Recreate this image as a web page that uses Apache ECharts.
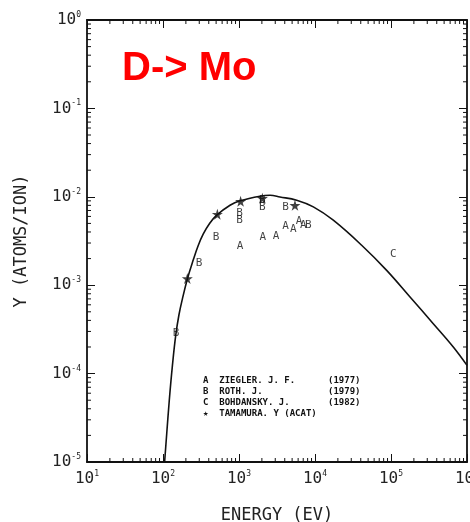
<!DOCTYPE html>
<html><head><meta charset="utf-8">
<script src="https://cdn.jsdelivr.net/npm/echarts@6/dist/echarts.min.js"></script>
<style>html,body{margin:0;padding:0;background:#fff}#c{width:470px;height:522px}</style>
</head><body><div id="c"></div>
<script>
// ---- data ----
const curveEnergy = [105,112,121,132.5,147,162,180,210,251,290,339,410,509,762,1030,1890,2560,3460,5740,9510,17400,41100,87700,178000,360000,660000,1000000];
const curveYield  = [1e-5,2.1e-5,5e-5,1.19e-4,2.7e-4,4.6e-4,7.0e-4,1.19e-3,1.95e-3,2.8e-3,3.8e-3,5.0e-3,6.2e-3,8.03e-3,9.0e-3,1.016e-2,1.04e-2,9.97e-3,9.15e-3,7.69e-3,5.43e-3,2.83e-3,1.47e-3,7.35e-4,3.67e-4,2.0e-4,1.24e-4];
const zieglerEnergy = [1030,2050,3070,4110,5190,6150,7010];
const zieglerYield  = [2.78e-3,3.46e-3,3.58e-3,4.69e-3,4.26e-3,5.33e-3,4.77e-3];
const rothEnergy = [148,298,498,1020,1020,2030,2030,4110,8170];
const rothYield  = [2.9e-4,1.76e-3,3.46e-3,6.47e-3,5.43e-3,9.15e-3,7.69e-3,7.69e-3,4.77e-3];
const tamamuraEnergy = [209,519,1050,2030,5450];
const tamamuraYield  = [1.19e-3,6.35e-3,8.9e-3,9.6e-3,8.0e-3];
const curveLabelPos = [1.07e5, 2.24e-3];
const legendNames = ['A  ZIEGLER. J. F.','B  ROTH. J.','C  BOHDANSKY. J.','\u2605  TAMAMURA. Y (ACAT)'];
const legendYears = ['(1977)','(1979)','(1982)',''];
const xDecades = [10,100,1000,10000,100000];
const yDecades = [1e-5,1e-4,1e-3,1e-2,1e-1];
const minorMult = [2,3,4,5,6,7,8,9];

const zip = (a,b) => a.map((v,i)=>[v,b[i]]);
const xMinor = [], yMinor = [];
xDecades.forEach(d => minorMult.forEach(m => xMinor.push([d*m, 1e-5])));
yDecades.forEach(d => minorMult.forEach(m => yMinor.push([10, d*m])));

const MONO = '"DejaVu Sans Mono", monospace';
const tickFmt = v => '{b|10}{s|' + Math.round(Math.log10(v)) + '}';
const richLab = {
  b:{fontFamily:MONO,fontSize:16,color:'#222',lineHeight:18},
  s:{fontFamily:MONO,fontSize:8,color:'#222',verticalAlign:'top',lineHeight:18,padding:[0,0,12,0]}
};
const STAR = 'path://M50,0 L61,35 L98,35 L68,57 L79,91 L50,70 L21,91 L32,57 L2,35 L39,35 Z';

function minorX(params, api){
  const cs = params.coordSys;
  const p = api.coord([api.value(0), api.value(1)]);
  const s = {stroke:'#111', lineWidth:1};
  return {type:'group', children:[
    {type:'line', shape:{x1:p[0],y1:cs.y+cs.height,x2:p[0],y2:cs.y+cs.height-4}, style:s},
    {type:'line', shape:{x1:p[0],y1:cs.y,x2:p[0],y2:cs.y+4}, style:s}
  ]};
}
function minorY(params, api){
  const cs = params.coordSys;
  const p = api.coord([api.value(0), api.value(1)]);
  const s = {stroke:'#111', lineWidth:1};
  return {type:'group', children:[
    {type:'line', shape:{x1:cs.x,y1:p[1],x2:cs.x+4,y2:p[1]}, style:s},
    {type:'line', shape:{x1:cs.x+cs.width,y1:p[1],x2:cs.x+cs.width-4,y2:p[1]}, style:s}
  ]};
}

const letterLabel = (t) => ({show:true, position:'inside', formatter:t, fontFamily:MONO, fontSize:11, color:'#111'});

const axisCommon = {
  type:'log', logBase:10,
  axisLine:{show:true, lineStyle:{color:'#111', width:1.8}},
  axisTick:{show:true, inside:true, length:8, lineStyle:{color:'#111', width:1}},
  splitLine:{show:false}
};

const chart = echarts.init(document.getElementById('c'), null, {renderer:'canvas'});
chart.setOption({
  animation:false,
  backgroundColor:'#fff',
  title:{text:'D-> Mo', left:122, top:49, padding:0,
    textStyle:{fontFamily:'"Liberation Sans", Arial, sans-serif', fontWeight:'bold', fontSize:40, color:'#ff0000'}},
  grid:{left:87, right:3, top:20, bottom:60, containLabel:false, outerBoundsMode:'none'},
  xAxis:[
    Object.assign({}, axisCommon, {min:10, max:1e6, position:'bottom',
      name:'ENERGY (EV)', nameLocation:'middle', nameGap:45,
      nameTextStyle:{fontFamily:MONO, fontSize:17, color:'#222'},
      axisLabel:{formatter:tickFmt, rich:richLab, margin:8, showMaxLabel:true, hideOverlap:false}}),
    Object.assign({}, axisCommon, {min:10, max:1e6, position:'top', axisLabel:{show:false}})
  ],
  yAxis:[
    Object.assign({}, axisCommon, {min:1e-5, max:1, position:'left',
      name:'Y (ATOMS/ION)', nameLocation:'middle', nameGap:57, nameRotate:90,
      nameTextStyle:{fontFamily:MONO, fontSize:17, color:'#222'},
      axisLabel:{formatter:tickFmt, rich:richLab, margin:6}}),
    Object.assign({}, axisCommon, {min:1e-5, max:1, position:'right', axisLabel:{show:false}})
  ],
  series:[
    {type:'line', name:'C', data:zip(curveEnergy, curveYield), smooth:0.4, symbol:'none',
      lineStyle:{color:'#111', width:1.6}, z:3},
    {type:'scatter', name:'A', data:zip(zieglerEnergy, zieglerYield), symbolSize:1,
      itemStyle:{color:'rgba(0,0,0,0)'}, label:letterLabel('A'), z:4},
    {type:'scatter', name:'B', data:zip(rothEnergy, rothYield), symbolSize:1,
      itemStyle:{color:'rgba(0,0,0,0)'}, label:letterLabel('B'), z:4},
    {type:'scatter', name:'C label', data:[curveLabelPos], symbolSize:1,
      itemStyle:{color:'rgba(0,0,0,0)'}, label:letterLabel('C'), z:4},
    {type:'scatter', name:'Tamamura', data:zip(tamamuraEnergy, tamamuraYield), symbol:STAR, symbolSize:11,
      itemStyle:{color:'#111'}, z:5},
    {type:'custom', data:xMinor, renderItem:minorX, clip:false, silent:true, z:2},
    {type:'custom', data:yMinor, renderItem:minorY, clip:false, silent:true, z:2}
  ],
  graphic:[
    ...legendNames.map((t,i)=>({type:'text', left:203, top:376+i*11,
      style:{text:t, font:'bold 9px ' + MONO, fill:'#111'}})),
    ...legendYears.map((t,i)=>({type:'text', left:328, top:376+i*11,
      style:{text:t, font:'bold 9px ' + MONO, fill:'#111'}}))
  ]
});
</script></body></html>
